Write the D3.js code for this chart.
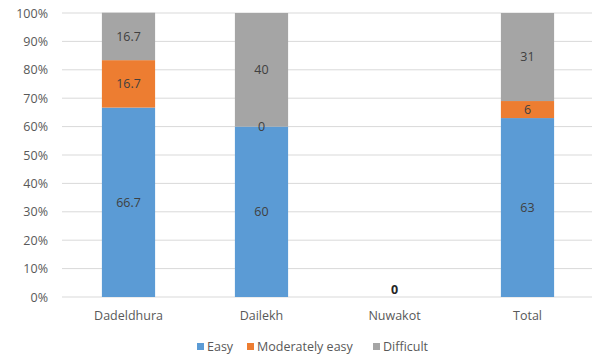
<!DOCTYPE html>
<html>
<head>
<meta charset="utf-8">
<script src="https://cdn.jsdelivr.net/npm/d3@7"></script>
<style>
  body { margin: 0; background: #fff; }
  svg { display: block; font-family: "Open Sans", "Liberation Sans", sans-serif; }
</style>
</head>
<body>
<svg id="chart" width="592" height="356"></svg>
<script>
// Districts along the x axis
const categories = ["Dadeldhura", "Dailekh", "Nuwakot", "Total"];
// Percentage of respondents per difficulty level (Nuwakot has no responses)
const easy = [66.7, 60, 0, 63];
const moderatelyEasy = [16.7, 0, 0, 6];
const difficult = [16.7, 40, 0, 31];
const seriesNames = ["Easy", "Moderately easy", "Difficult"];
const seriesColors = ["#5b9bd5", "#ed7d31", "#a5a5a5"];
const yTicks = [0, 10, 20, 30, 40, 50, 60, 70, 80, 90, 100];

const rows = categories.map((c, i) => ({
  cat: c,
  "Easy": easy[i],
  "Moderately easy": moderatelyEasy[i],
  "Difficult": difficult[i]
}));
const total = d => seriesNames.reduce((s, k) => s + d[k], 0);

const svg = d3.select("#chart");
const margin = { left: 62, right: -2, top: 13, bottom: 59 };
const W = 592, H = 356;

const x = d3.scaleBand().domain(categories)
  .range([margin.left, W - margin.right]).paddingInner(0.6).paddingOuter(0.3);
const y = d3.scaleLinear().domain([0, 100]).range([H - margin.bottom, margin.top]);

// Horizontal gridlines
svg.append("g").selectAll("line").data(yTicks).join("line")
  .attr("x1", margin.left).attr("x2", W)
  .attr("y1", d => y(d)).attr("y2", d => y(d))
  .attr("stroke", "#d9d9d9").attr("stroke-width", 1);

// Y axis labels
const yAxis = d3.axisLeft(y).tickValues(yTicks).tickFormat(d => d + "%").tickSize(0).tickPadding(0);
const ya = svg.append("g").attr("transform", `translate(${margin.left - 14},0)`).call(yAxis);
ya.select(".domain").remove();
ya.selectAll("text").attr("fill", "#595959").attr("font-size", 12.5).attr("font-family", "Open Sans, sans-serif");

// X axis labels
const xAxis = d3.axisBottom(x).tickSize(0).tickPadding(14);
const xa = svg.append("g").attr("transform", `translate(0,${y(0)})`).call(xAxis);
xa.select(".domain").remove();
xa.selectAll("text").attr("fill", "#595959").attr("font-size", 12.5).attr("font-family", "Open Sans, sans-serif");

// Stacked segments
const stack = d3.stack().keys(seriesNames)(rows);
const layers = svg.append("g").selectAll("g").data(stack).join("g")
  .attr("fill", (d, i) => seriesColors[i]);
layers.selectAll("rect").data(d => d.filter(s => total(s.data) > 0 && s[1] - s[0] > 0)).join("rect")
  .attr("x", d => x(d.data.cat))
  .attr("width", x.bandwidth())
  .attr("y", d => y(d[1]))
  .attr("height", d => y(d[0]) - y(d[1]));

// Segment value labels
const labels = svg.append("g").attr("font-size", 12.5).attr("fill", "#404040").attr("text-anchor", "middle");
stack.forEach((layer, si) => {
  layer.forEach(s => {
    if (total(s.data) === 0) return;
    const v = s.data[seriesNames[si]];
    labels.append("text")
      .attr("x", x(s.data.cat) + x.bandwidth() / 2)
      .attr("y", y((s[0] + s[1]) / 2))
      .attr("dy", "0.35em")
      .text(v);
  });
});

// Single zero label for an empty column
rows.filter(r => total(r) === 0).forEach(r => {
  svg.append("text")
    .attr("x", x(r.cat) + x.bandwidth() / 2)
    .attr("y", y(0) - 3)
    .attr("text-anchor", "middle")
    .attr("font-size", 12.5).attr("font-weight", "bold").attr("fill", "#262626")
    .text(0);
});

// Legend
const legend = svg.append("g").attr("transform", `translate(0,${H - 5})`);
const legendX = [197, 247, 373];
seriesNames.forEach((n, i) => {
  legend.append("rect").attr("x", legendX[i]).attr("y", -8).attr("width", 7).attr("height", 7)
    .attr("fill", seriesColors[i]);
  legend.append("text").attr("x", legendX[i] + 10).attr("y", 0)
    .attr("font-size", 12.5).attr("fill", "#595959").text(n);
});
</script>
</body>
</html>
